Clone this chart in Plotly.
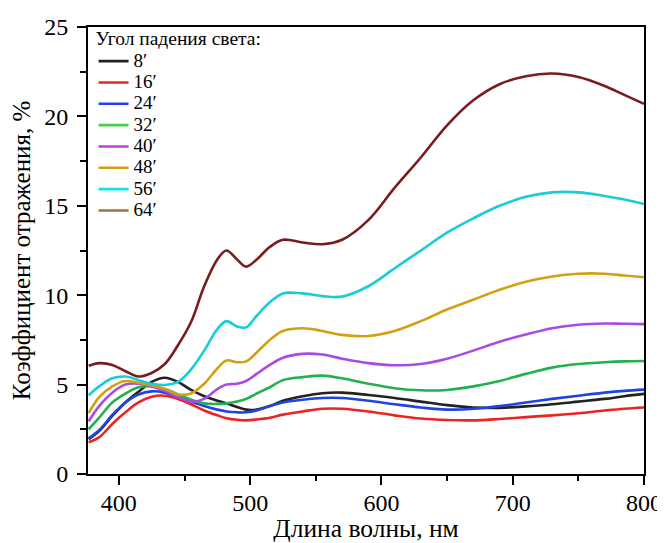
import plotly.graph_objects as go

wavelength = [377, 385, 395, 405, 415, 425, 435, 445, 455, 465, 475, 482, 490, 497, 505, 515,
              525, 540, 555, 570, 590, 610, 630, 650, 670, 690, 710, 730, 750, 770, 785, 800]

r_8 = [1.95, 2.4, 3.25, 4.0, 4.6, 5.15, 5.38, 5.15, 4.7, 4.35, 4.1, 3.95, 3.75, 3.6, 3.6, 3.8,
       4.1, 4.35, 4.52, 4.55, 4.42, 4.25, 4.05, 3.85, 3.72, 3.7, 3.78, 3.9, 4.05, 4.2, 4.35, 4.48]
r_16 = [1.78, 2.05, 2.8, 3.45, 4.0, 4.32, 4.38, 4.2, 3.9, 3.55, 3.28, 3.12, 3.03, 3.0, 3.05, 3.15,
        3.32, 3.5, 3.65, 3.65, 3.5, 3.28, 3.1, 3.02, 3.0, 3.08, 3.18, 3.28, 3.4, 3.55, 3.65, 3.72]
r_24 = [2.0, 2.45, 3.3, 4.0, 4.45, 4.62, 4.55, 4.3, 4.05, 3.8, 3.6, 3.5, 3.45, 3.45, 3.55, 3.8,
        4.0, 4.15, 4.25, 4.25, 4.1, 3.9, 3.72, 3.6, 3.65, 3.8, 4.0, 4.2, 4.38, 4.55, 4.65, 4.72]
r_32 = [2.5, 3.15, 4.0, 4.5, 4.85, 4.9, 4.75, 4.45, 4.15, 3.95, 3.92, 3.95, 4.05, 4.2, 4.5, 4.85,
        5.25, 5.42, 5.5, 5.35, 5.05, 4.8, 4.68, 4.7, 4.9, 5.2, 5.6, 5.95, 6.15, 6.25, 6.3, 6.32]
r_40 = [2.95, 3.8, 4.55, 5.0, 5.05, 4.9, 4.65, 4.3, 4.05, 4.2, 4.75, 5.0, 5.05, 5.2, 5.6, 6.1,
        6.5, 6.72, 6.68, 6.45, 6.2, 6.08, 6.15, 6.45, 6.9, 7.4, 7.8, 8.15, 8.35, 8.42, 8.4, 8.38]
r_48 = [3.4, 4.3, 4.9, 5.2, 5.1, 4.95, 4.75, 4.45, 4.5, 5.05, 5.9, 6.35, 6.25, 6.3, 6.8, 7.5,
        8.0, 8.15, 8.0, 7.78, 7.72, 8.0, 8.55, 9.2, 9.75, 10.3, 10.75, 11.05, 11.2, 11.2, 11.1, 11.0]
r_56 = [4.4, 4.9, 5.35, 5.45, 5.25, 5.05, 4.98, 5.15, 5.85, 6.9, 8.1, 8.55, 8.25, 8.2, 8.85, 9.6,
        10.1, 10.1, 9.95, 9.92, 10.5, 11.5, 12.5, 13.5, 14.3, 15.0, 15.5, 15.75, 15.75, 15.55, 15.35, 15.1]
r_64 = [6.05, 6.2, 6.1, 5.75, 5.45, 5.65, 6.15, 7.2, 8.5, 10.5, 12.0, 12.5, 12.0, 11.6, 12.0, 12.7,
        13.1, 12.95, 12.85, 13.1, 14.2, 16.0, 17.7, 19.5, 20.9, 21.8, 22.25, 22.4, 22.2, 21.7, 21.2, 20.7]

labels = ["8′", "16′", "24′", "32′", "40′", "48′", "56′", "64′"]
series = [r_8, r_16, r_24, r_32, r_40, r_48, r_56, r_64]
colors = ["#222222", "#ee2222", "#1f44e0", "#22b050", "#a84be6", "#d4a012", "#18cdd6", "#7a1c1e"]
legend_colors = ["#222222", "#ee2222", "#2a3ee8", "#4ccc4c", "#c03cd8", "#d4a012", "#18e0e6", "#a07042"]

FONT = "Liberation Serif"

fig = go.Figure()
for lab, ys, c, lc in zip(labels, series, colors, legend_colors):
    same = (c == lc)
    fig.add_trace(go.Scatter(
        x=wavelength, y=ys, mode="lines", line=dict(color=c, width=2.6, shape="spline", smoothing=1.0),
        name='<span style="font-size:19px">' + lab + '</span>', showlegend=same,
        legendgroup=lab, hoverinfo="skip"))
    if not same:
        fig.add_trace(go.Scatter(
            x=[None], y=[None], mode="lines", line=dict(color=lc, width=2.6),
            name='<span style="font-size:19px">' + lab + '</span>', legendgroup=lab, showlegend=True))

axis_common = dict(
    showline=True, linecolor="black", linewidth=2, mirror=True,
    ticks="outside", ticklen=9, tickwidth=2, tickcolor="black",
    showgrid=False, zeroline=False, automargin=False,
    tickfont=dict(family=FONT, size=24, color="black"),
)

fig.update_xaxes(range=[376.5, 800], tickvals=[400, 500, 600, 700, 800],
                 ticklabelstandoff=-3,
                 minor=dict(ticks="outside", ticklen=5, tickwidth=2, tickcolor="black", dtick=50, tick0=0, showgrid=False),
                 title=dict(text="Длина волны, нм", font=dict(family=FONT, size=25.5, color="black"), standoff=3),
                 **axis_common)
fig.update_yaxes(range=[0, 25], tickvals=[0, 5, 10, 15, 20, 25],
                 ticklabelstandoff=4,
                 minor=dict(ticks="outside", ticklen=6, tickwidth=2, tickcolor="black", dtick=2.5, tick0=0, showgrid=False),
                 title=dict(text="Коэффициент отражения, %", font=dict(family=FONT, size=25, color="black"), standoff=7),
                 **axis_common)

fig.update_layout(
    width=657, height=535,
    margin=dict(l=79.5, r=21, t=12, b=69),
    paper_bgcolor="white", plot_bgcolor="white",
    font=dict(family=FONT, color="black"),
    showlegend=True,
    legend=dict(
        x=0.01, y=1.0154, xanchor="left", yanchor="top",
        bgcolor="rgba(0,0,0,0)", borderwidth=0,
        font=dict(family=FONT, size=14.1, color="black"),
        title=dict(text="Угол падения света:", font=dict(family=FONT, size=19.5, color="black")),
        tracegroupgap=0, itemwidth=30,
    ),
)

fig.write_html("out.html")
